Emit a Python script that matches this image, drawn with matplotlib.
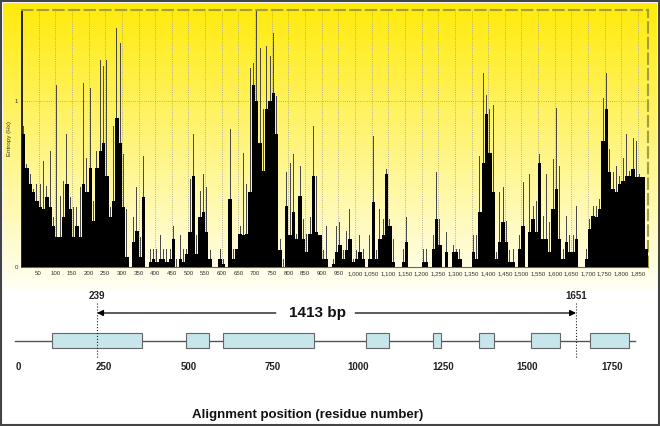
import numpy as np
import matplotlib.pyplot as plt
from matplotlib.patches import Rectangle
from matplotlib.ticker import FuncFormatter

# entropy per 10-residue bin: solid level and tallest spike in the bin
bin_start = np.arange(0, 1880, 10)
fill = [0.80, 0.60, 0.50, 0.45, 0.40, 0.36, 0.35, 0.42, 0.36, 0.25,
        0.18, 0.18, 0.30, 0.50, 0.35, 0.18, 0.25, 0.18, 0.50, 0.45,
        0.60, 0.28, 0.60, 0.70, 0.75, 0.55, 0.30, 0.40, 0.90, 0.75,
        0.36, 0.06, 0.00, 0.15, 0.22, 0.06, 0.42, 0.00, 0.03, 0.05,
        0.03, 0.05, 0.05, 0.03, 0.05, 0.17, 0.00, 0.05, 0.03, 0.08,
        0.21, 0.55, 0.08, 0.30, 0.33, 0.21, 0.05, 0.00, 0.00, 0.05,
        0.02, 0.00, 0.41, 0.05, 0.11, 0.20, 0.19, 0.20, 0.45, 1.10,
        1.00, 0.75, 0.58, 0.95, 1.00, 1.05, 0.80, 0.10, 0.00, 0.37,
        0.19, 0.33, 0.17, 0.43, 0.17, 0.09, 0.20, 0.55, 0.21, 0.19,
        0.05, 0.05, 0.00, 0.02, 0.09, 0.13, 0.05, 0.10, 0.17, 0.03,
        0.05, 0.09, 0.05, 0.00, 0.05, 0.39, 0.05, 0.17, 0.19, 0.56,
        0.25, 0.03, 0.00, 0.00, 0.03, 0.15, 0.00, 0.00, 0.00, 0.00,
        0.03, 0.03, 0.00, 0.11, 0.29, 0.13, 0.00, 0.09, 0.00, 0.09,
        0.09, 0.05, 0.00, 0.00, 0.00, 0.09, 0.05, 0.33, 0.63, 0.92,
        0.69, 0.45, 0.05, 0.15, 0.27, 0.15, 0.03, 0.03, 0.00, 0.11,
        0.25, 0.00, 0.21, 0.29, 0.21, 0.63, 0.17, 0.17, 0.09, 0.35,
        0.47, 0.17, 0.05, 0.15, 0.09, 0.09, 0.17, 0.00, 0.00, 0.05,
        0.23, 0.31, 0.30, 0.35, 0.76, 0.95, 0.57, 0.47, 0.45, 0.50,
        0.52, 0.55, 0.55, 0.59, 0.54, 0.54, 0.54, 0.11]
peak = [0.85, 0.62, 0.56, 0.47, 0.50, 0.50, 0.64, 0.49, 0.70, 0.30,
        1.10, 0.43, 0.52, 0.80, 0.42, 0.36, 0.36, 0.48, 1.11, 0.66,
        1.08, 0.40, 0.70, 1.25, 1.21, 1.25, 0.36, 0.85, 1.44, 1.35,
        0.68, 0.35, 0.00, 0.30, 0.48, 0.18, 0.67, 0.00, 0.11, 0.11,
        0.11, 0.19, 0.11, 0.11, 0.11, 0.25, 0.05, 0.19, 0.11, 0.11,
        0.53, 0.80, 0.19, 0.46, 0.56, 0.48, 0.10, 0.00, 0.00, 0.11,
        0.05, 0.00, 0.83, 0.11, 0.11, 0.25, 0.69, 0.50, 1.20, 1.23,
        1.55, 1.32, 0.95, 1.33, 1.27, 1.41, 1.03, 0.17, 0.05, 0.57,
        0.63, 0.68, 0.20, 0.61, 0.29, 0.20, 0.30, 0.85, 0.55, 0.19,
        0.10, 0.25, 0.00, 0.05, 0.25, 0.27, 0.10, 0.22, 0.35, 0.05,
        0.10, 0.19, 0.11, 0.00, 0.19, 0.79, 0.10, 0.35, 0.29, 0.59,
        0.29, 0.17, 0.00, 0.00, 0.11, 0.30, 0.00, 0.00, 0.00, 0.00,
        0.11, 0.11, 0.00, 0.19, 0.57, 0.29, 0.00, 0.21, 0.00, 0.13,
        0.11, 0.11, 0.00, 0.00, 0.00, 0.19, 0.19, 0.67, 1.17, 1.04,
        0.95, 0.98, 0.09, 0.45, 0.48, 0.28, 0.10, 0.11, 0.00, 0.19,
        0.51, 0.00, 0.56, 0.37, 0.40, 0.68, 0.31, 0.56, 0.27, 0.65,
        0.96, 0.61, 0.11, 0.31, 0.19, 0.19, 0.37, 0.00, 0.00, 0.11,
        0.29, 0.37, 0.37, 0.41, 1.02, 1.17, 0.71, 0.57, 0.61, 0.55,
        0.66, 0.80, 0.58, 0.78, 0.76, 0.56, 0.54, 0.11]
xticks = np.arange(50, 1851, 50)

# gene map below
map_ticks = [0, 250, 500, 750, 1000, 1250, 1500, 1750]
box_start = [106, 501, 610, 1032, 1229, 1365, 1518, 1692]
box_end = [371, 569, 878, 1100, 1253, 1409, 1604, 1807]
region_start, region_end = 239, 1651

W, H = 660, 426
fig = plt.figure(figsize=(W / 100, H / 100), dpi=100)
plt.rcParams['font.family'] = ['Liberation Sans', 'DejaVu Sans']

# yellow gradient behind the top panel + outer frame
bg = fig.add_axes([0, 0, 1, 1], zorder=-5)
bg.set_xlim(0, W)
bg.set_ylim(H, 0)
bg.axis('off')
t = np.linspace(0, 1, 200)[:, None]
grad = np.dstack([np.ones_like(t),
                  0.92 + 0.08 * t,
                  0.04 + 0.92 * t])
bg.imshow(grad, extent=[3, W - 3, 290, 3], aspect='auto', interpolation='bilinear')
bg.add_patch(Rectangle((1, 1), W - 2, H - 2, fill=False, ec='#444444', lw=1.5))

# entropy panel
ax = fig.add_axes([22 / W, 1 - 267 / H, 626 / W, 257 / H])
ax.patch.set_alpha(0)
ax.bar(bin_start + 5, fill, width=10, color='black', linewidth=0, zorder=3)
ax.bar(bin_start + 5, peak, width=3, color='#4a4a4a', linewidth=0, zorder=2)
ax.set_xlim(0, 1880)
ax.set_ylim(0, 1.55)
ax.set_xticks(xticks)
ax.xaxis.set_major_formatter(FuncFormatter(lambda v, p: f'{int(v):,}'))
ax.set_yticks([0, 1])
ax.tick_params(length=0, labelsize=4.4, colors='#333333', pad=3)
for x in xticks:
    ax.axvline(x, color='#999999', ls=':', lw=0.6, zorder=1)
ax.axhline(1, color='#999999', ls=':', lw=0.6, zorder=1)
ax.set_ylabel('Entropy (Hx)', fontsize=4.5, color='#333333', labelpad=2)
for s in ['top', 'right']:
    ax.spines[s].set_linestyle((0, (5, 2.5)))
    ax.spines[s].set_color('#a39e3c')
    ax.spines[s].set_linewidth(1.5)
ax.spines['left'].set_color('black')
ax.spines['left'].set_linewidth(1.2)
ax.spines['bottom'].set_color('#666666')
ax.spines['bottom'].set_linewidth(0.8)

# gene map panel, y in pixel rows
scale = 0.3392
x0 = 16
m = fig.add_axes([0, 0, 1, 138 / H])
m.patch.set_alpha(0)
m.set_xlim(-x0 / scale, (W - x0) / scale)
m.set_ylim(H, 288)
m.axis('off')

m.plot([-3, 1825], [341, 341], color='#555555', lw=1)
for a, b in zip(box_start, box_end):
    m.add_patch(Rectangle((a, 333), b - a, 15, fc='#c6e6ec', ec='#666666', lw=0.8, zorder=3))

for p in [region_start, region_end]:
    m.plot([p, p], [303, 358], color='#222222', ls=':', lw=0.8, zorder=4)
    m.text(p, 296, str(p), ha='center', va='center', fontsize=7,
           fontweight='bold', color='#222222')

mid = 890
m.annotate('', xy=(region_start, 313), xytext=(766, 313),
           arrowprops=dict(arrowstyle='-|>', color='black', lw=0.9,
                           mutation_scale=9, shrinkA=0, shrinkB=0))
m.annotate('', xy=(region_end, 313), xytext=(1000, 313),
           arrowprops=dict(arrowstyle='-|>', color='black', lw=0.9,
                           mutation_scale=9, shrinkA=0, shrinkB=0))
m.text(mid, 313, f'{region_end - region_start + 1} bp', ha='center', va='center',
       fontsize=11, fontweight='bold', color='#111111')

for v in map_ticks:
    m.text(v + 8, 367, str(v), ha='center', va='center', fontsize=7,
           fontweight='bold', color='#222222')

m.text((308 - x0) / scale, 415, 'Alignment position (residue number)', ha='center',
       va='center', fontsize=9.5, fontweight='bold', color='#111111')

fig.savefig('out.png', dpi=100)
